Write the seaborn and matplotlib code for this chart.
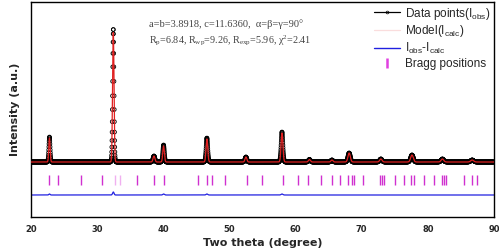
import numpy as np
import pandas as pd
import matplotlib
matplotlib.use("Agg")
import matplotlib.pyplot as plt
from matplotlib.lines import Line2D
import seaborn as sns

# ---- data ----
peak_pos = [22.8, 32.45, 38.6, 40.05, 46.6, 52.5, 57.95, 62.1, 65.5, 68.1, 72.9, 77.6, 82.2, 86.7]
peak_obs = [25, 133, 6, 17, 24, 5, 30, 2.5, 2, 9, 3, 7, 3, 2]
peak_calc = [24, 130, 6, 16, 23, 5, 29, 2.5, 2, 9, 3, 7, 3, 2]
peak_width = [0.10, 0.11, 0.14, 0.12, 0.13, 0.14, 0.14, 0.15, 0.15, 0.18, 0.18, 0.2, 0.2, 0.22]
bragg_strong = [22.7, 24.1, 27.6, 30.7, 36.0, 38.6, 40.1, 45.3, 46.6, 47.3, 49.3, 52.6,
                54.9, 58.15, 60.4, 61.9, 63.9, 65.5, 66.7, 68.0, 68.5, 68.8, 70.2, 72.8,
                73.0, 73.4, 75.0, 76.4, 77.4, 77.9, 79.4, 80.9, 82.1, 82.4, 82.8, 85.5,
                86.6, 87.4]
bragg_faint = [32.7, 33.5]
diff_offset = -33
bragg_lo, bragg_hi = -23, -13

x_ticks = [20, 30, 40, 50, 60, 70, 80, 90]

two_theta = np.arange(20.0, 90.0, 0.02)

def profile(heights):
    y = np.zeros_like(two_theta)
    for p, h, w in zip(peak_pos, heights, peak_width):
        y += h * np.exp(-0.5 * ((two_theta - p) / w) ** 2)
    return y

obs = profile(peak_obs)
calc = profile(peak_calc)
df = pd.DataFrame({"tt": two_theta, "obs": obs, "calc": calc,
                   "diff": obs - calc + diff_offset})

sns.set_style("white")
plt.rcParams["mathtext.default"] = "regular"
fig = plt.figure(figsize=(4.99, 2.5), dpi=100)
ax = fig.add_axes([0.062, 0.132, 0.928, 0.86])

sns.scatterplot(data=df, x="tt", y="obs", ax=ax, marker="o", s=7,
                facecolor="none", edgecolor="black", linewidth=0.6, legend=False, zorder=2)
sns.lineplot(data=df, x="tt", y="calc", ax=ax, color="#e02020", linewidth=0.9, zorder=3)
sns.lineplot(data=df, x="tt", y="diff", ax=ax, color="#2020e0", linewidth=0.9)
ax.vlines(bragg_strong, bragg_lo, bragg_hi, color="#d030d0", linewidth=1.0)
ax.vlines(bragg_faint, bragg_lo, bragg_hi, color="#f0b0f0", linewidth=1.0)

ax.set_xlim(20, 90)
ax.set_ylim(-55, 160)
ax.set_xticks(x_ticks)
ax.set_xticks(np.arange(25, 90, 10), minor=True)
ax.set_yticks([])
ax.tick_params(axis="x", direction="in", length=3, width=0.8, labelsize=6, pad=6)
ax.tick_params(axis="x", which="minor", direction="in", length=2, width=0.8)
for lab in ax.get_xticklabels():
    lab.set_fontweight("bold")
for s in ax.spines.values():
    s.set_color("black")
    s.set_linewidth(1.0)

ax.set_xlabel("Two theta (degree)", fontsize=8, fontweight="bold", labelpad=3)
ax.set_ylabel("Intensity (a.u.)", fontsize=8, fontweight="bold", labelpad=8)

ax.text(37.8, 143, "a=b=3.8918, c=11.6360,  α=β=γ=90°", family="Liberation Serif",
        fontsize=7.5, va="top", color="#444444")
ax.text(37.8, 129, r"R$_{p}$=6.84, R$_{wp}$=9.26, R$_{exp}$=5.96, χ$^{2}$=2.41",
        family="Liberation Serif", fontsize=7.3, va="top", color="#444444")

handles = [
    Line2D([], [], color="black", linewidth=0.9, marker="o", markersize=2,
           markerfacecolor="none", markeredgewidth=0.5),
    Line2D([], [], color="#e02020", linewidth=0.9, alpha=0.15),
    Line2D([], [], color="#2020e0", linewidth=1.0),
    Line2D([], [], color="#e040e0", linestyle="none", marker="|", markersize=7,
           markeredgewidth=1.8),
]
labels = [r"Data points(I$_{obs}$)", r"Model(I$_{calc}$)", r"I$_{obs}$-I$_{calc}$",
          "Bragg positions"]
ax.legend(handles, labels, loc="upper right", frameon=False,
          prop={"family": "Liberation Sans", "size": 8.5},
          handlelength=2.2, handletextpad=0.4, labelspacing=0.15,
          borderaxespad=0.0, borderpad=0.3)

fig.savefig("out.png", dpi=100)
